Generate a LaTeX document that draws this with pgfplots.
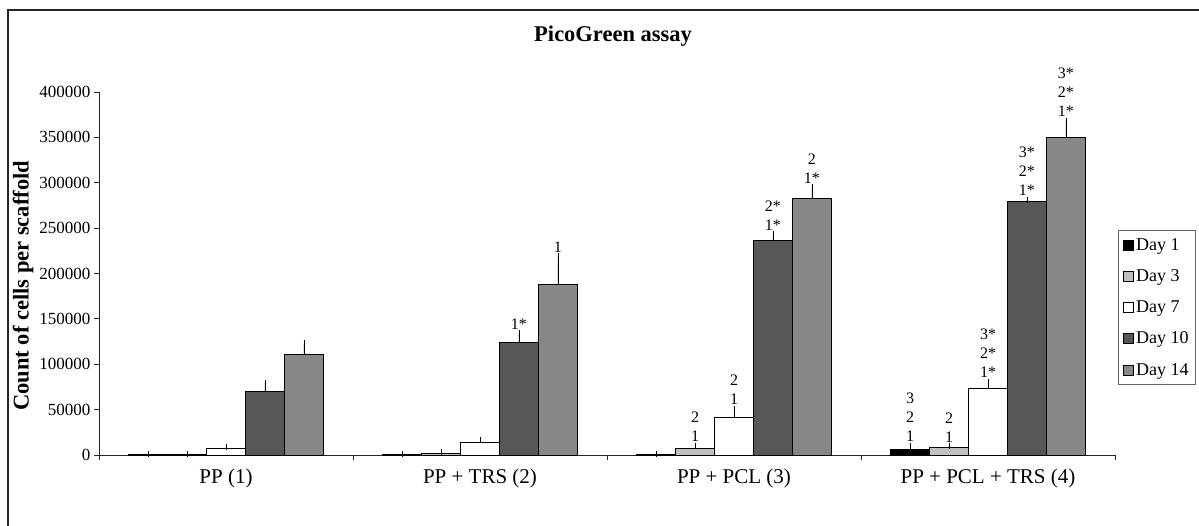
\documentclass[border=0pt]{standalone}
\usepackage{fontspec}
\setmainfont{Liberation Serif}
\usepackage{pgfplots}
\pgfplotsset{compat=1.18}
\definecolor{dOne}{HTML}{000000}
\definecolor{dThree}{HTML}{C0C0C0}
\definecolor{dSeven}{HTML}{FFFFFF}
\definecolor{dTen}{HTML}{575757}
\definecolor{dFourteen}{HTML}{878787}
\begin{document}
\begin{tikzpicture}
\begin{axis}[
  scale only axis, width=1016pt, height=363pt,
  xmin=-0.5, xmax=3.5, ymin=0, ymax=400000,
  clip=false,
  ybar, bar width=0.1535,
  axis lines=left,
  axis line style={-, line width=0.8pt, black!85},
  tick align=outside,
  major tick length=5pt,
  tick style={line width=0.8pt, black!85},
  ytick={0,50000,...,400000},
  scaled y ticks=false,
  yticklabel style={/pgf/number format/fixed, /pgf/number format/1000 sep={}, /pgf/number format/assume math mode=true, font=\fontsize{17}{20}\selectfont},
  xtick={-0.5,0.5,1.5,2.5,3.5},
  xticklabels={},
  extra x ticks={0,1,2,3},
  extra x tick labels={PP (1), PP + TRS (2), PP + PCL (3), PP + PCL + TRS (4)},
  extra x tick style={major tick length=0pt, xticklabel style={yshift=-10pt, font=\fontsize{21}{24}\selectfont}},
  title={PicoGreen assay},
  title style={at={(rel axis cs:0.506,1.138)}, anchor=center, font=\fontsize{22.5}{26}\selectfont\bfseries},
  ylabel={Count of cells per scaffold},
  every axis y label/.style={at={(rel axis cs:0,0.466)}, xshift=-76pt, rotate=90, anchor=center, font=\fontsize{22.5}{26}\selectfont\bfseries},
  legend style={at={(rel axis cs:1.0797,0.1928)}, anchor=south east, draw=black!60, line width=0.8pt,
    font=\fontsize{18}{21}\selectfont, inner xsep=5pt, inner ysep=6pt,
    /tikz/row sep=13.8pt, /tikz/column sep=0pt,
    nodes={inner sep=2pt}, cells={anchor=west}},
  legend image code/.code={\draw[#1, line width=0.8pt] (0pt,-5pt) rectangle (10pt,5pt);},
  error bars/y dir=plus, error bars/y explicit,
  error bars/error mark options={mark size=3pt, line width=0.8pt, black},
  error bars/error bar style={line width=0.8pt, black},
]
\addplot[fill=dOne, draw=black, line width=1pt, bar shift=-0.307] coordinates {(0,500) +- (0,200) (1,500) +- (0,200) (2,1000) +- (0,300) (3,6600) +- (0,3300)};
\addlegendentry{Day 1}
\addplot[fill=dThree, draw=black, line width=1pt, bar shift=-0.1535] coordinates {(0,800) +- (0,200) (1,1800) +- (0,1000) (2,7700) +- (0,2200) (3,8500) +- (0,1000)};
\addlegendentry{Day 3}
\addplot[fill=dSeven, draw=black, line width=1pt, bar shift=0] coordinates {(0,7700) +- (0,1500) (1,14300) +- (0,2200) (2,40800) +- (0,10000) (3,73800) +- (0,6600)};
\addlegendentry{Day 7}
\addplot[fill=dTen, draw=black, line width=1pt, bar shift=0.1535] coordinates {(0,70500) +- (0,8800) (1,124000) +- (0,10000) (2,236000) +- (0,7000) (3,279000) +- (0,2500)};
\addlegendentry{Day 10}
\addplot[fill=dFourteen, draw=black, line width=1pt, bar shift=0.307] coordinates {(0,111000) +- (0,12000) (1,188000) +- (0,31000) (2,283000) +- (0,12000) (3,350000) +- (0,18000)};
\addlegendentry{Day 14}
\begin{scope}[every node/.style={anchor=south, align=center, inner sep=1pt, yshift=3pt, font=\fontsize{16}{19}\selectfont}]
\node at (axis cs:1.1535,134000) {1*};
\node at (axis cs:1.307,219000) {1};
\node at (axis cs:1.8465,9900) {2\\1};
\node at (axis cs:2,50800) {2\\1};
\node at (axis cs:2.1535,243000) {2*\\1*};
\node at (axis cs:2.307,295000) {2\\1*};
\node at (axis cs:2.693,9900) {3\\2\\1};
\node at (axis cs:2.8465,9500) {2\\1};
\node at (axis cs:3,80400) {3*\\2*\\1*};
\node at (axis cs:3.1535,281500) {3*\\2*\\1*};
\node at (axis cs:3.307,368000) {3*\\2*\\1*};
\end{scope}
\end{axis}
\draw[line width=1.1pt, black!85] (-91pt,-75pt) -- (-91pt,445pt) -- (1105pt,445pt);
\pgfresetboundingbox
\path[use as bounding box] (-99pt,-70pt) rectangle (1100pt,455pt);
\end{tikzpicture}
\end{document}
